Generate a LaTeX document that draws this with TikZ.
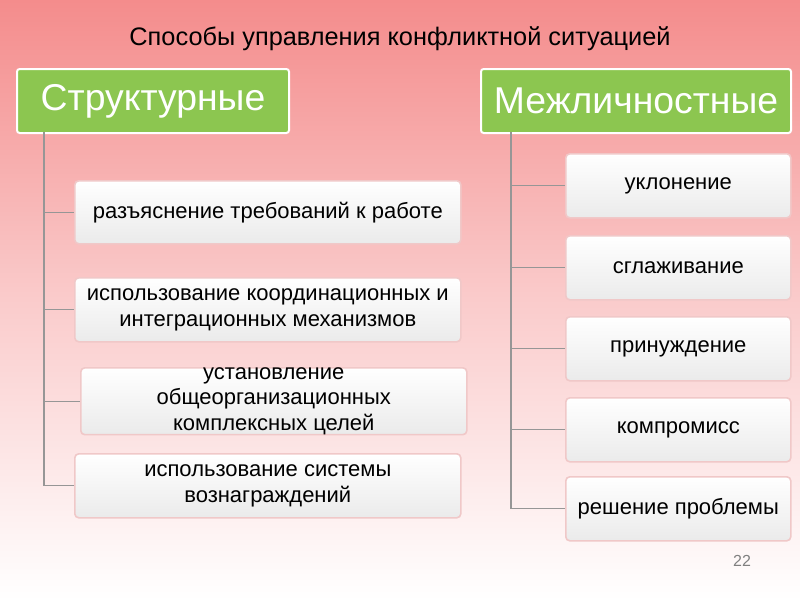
\documentclass[tikz,border=0pt]{standalone}
\usepackage{fontspec}
\setmainfont{Liberation Sans}
\definecolor{bgtop}{RGB}{244,140,140}
\definecolor{headgreen}{RGB}{140,198,80}
\definecolor{boxedge}{RGB}{240,200,200}
\definecolor{treeline}{RGB}{150,150,150}
\begin{document}
\begin{tikzpicture}[x=0.75pt, y=-0.75pt, thick]
	\tikzset{
		head/.style={draw=white, line width=1.5pt, fill=headgreen, rounded corners=2pt, text=white, font=\fontsize{28}{30}\selectfont, anchor=north west, inner sep=0pt},
		item/.style={draw=boxedge, line width=1.2pt, top color=white, bottom color=white!92!black, rounded corners=3pt, font=\fontsize{16.5}{19}\selectfont, align=center, anchor=north west, inner sep=0pt},
		link/.style={draw=treeline, line width=0.8pt}
	}
	\shade[top color=bgtop, bottom color=white, middle color=bgtop!45] (0,0) rectangle (800,600);
	\node (title) at (400,39) {\fontsize{19}{22}\selectfont Способы управления конфликтной ситуацией};
	% left column
	\node[head, minimum width=272*0.75pt, minimum height=64*0.75pt] (struct) at (16,68) {Структурные};
	\node[item, minimum width=386*0.75pt, minimum height=63*0.75pt] (s1) at (74,180) {разъяснение требований к работе};
	\node[item, minimum width=386*0.75pt, minimum height=64*0.75pt] (s2) at (74,277) {использование координационных и\\интеграционных механизмов};
	\node[item, minimum width=386*0.75pt, minimum height=65*0.75pt] (s3) at (80,367) {установление\\общеорганизационных\\комплексных целей};
	\node[item, minimum width=386*0.75pt, minimum height=64*0.75pt] (s4) at (74,453) {использование системы\\вознаграждений};
	\coordinate (ltop) at (44,132);
	\draw[link] (ltop) |- (s4.west);
	\foreach \n in {s1,s2,s3}
		\draw[link] (ltop |- \n.west) -- (\n.west);
	% right column
	\node[head, minimum width=310*0.75pt, minimum height=64*0.75pt] (inter) at (480,68) {Межличностные};
	\node[item, minimum width=225*0.75pt, minimum height=64*0.75pt] (r1) at (565,153) {уклонение};
	\node[item, minimum width=225*0.75pt, minimum height=64*0.75pt] (r2) at (565,235) {сглаживание};
	\node[item, minimum width=225*0.75pt, minimum height=64*0.75pt] (r3) at (565,316) {принуждение};
	\node[item, minimum width=225*0.75pt, minimum height=64*0.75pt] (r4) at (565,397) {компромисс};
	\node[item, minimum width=225*0.75pt, minimum height=64*0.75pt] (r5) at (565,476) {решение проблемы};
	\coordinate (rtop) at (511,132);
	\draw[link] (rtop) |- (r5.west);
	\foreach \n in {r1,r2,r3,r4}
		\draw[link] (rtop |- \n.west) -- (\n.west);
	\node[text=gray, font=\fontsize{12}{14}\selectfont] (page) at (742,561) {22};
\end{tikzpicture}
\end{document}
